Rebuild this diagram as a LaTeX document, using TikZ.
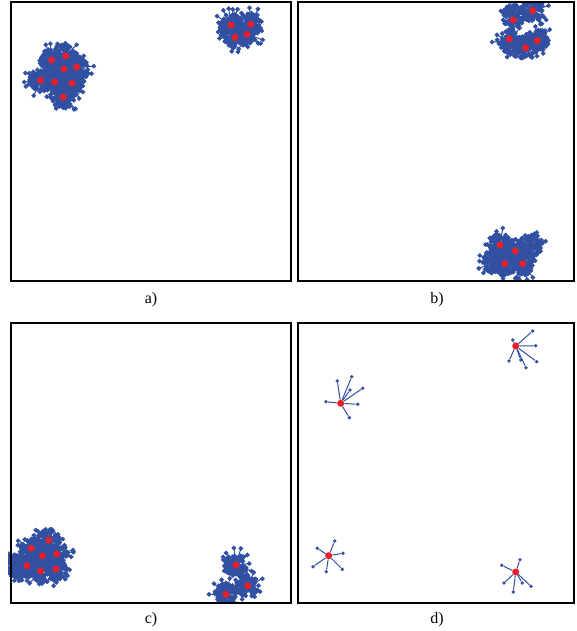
\documentclass[tikz,border=0pt]{standalone}
\usepackage{fontspec}
\setmainfont{Liberation Serif}

\definecolor{netblue}{RGB}{50,80,162}
\definecolor{hubred}{RGB}{234,30,40}

% one dense cluster: many short branches round a hub
\newcommand{\blob}[3]{%
  \foreach \k in {1,...,#3} {
    \pgfmathsetmacro{\ang}{360*rnd}
    \pgfmathsetmacro{\rad}{\blobr*(0.3+0.7*sqrt(rnd))*(rnd<0.18 ? 1.5 : 1)}
    \filldraw[link] (#1,#2) -- ++(\ang:\rad) circle[radius=1.8];
  }
}

\begin{document}
\begin{tikzpicture}[
    x=1pt, y=-1pt,
    % Define frame style
    frame/.style={draw=black, line width=1.3pt},
    link/.style={netblue, line width=1pt},
    hub/.style={circle, fill=hubred, inner sep=0pt, minimum size=7pt},
    leaf/.style={circle, fill=netblue, inner sep=0pt, minimum size=3.8pt},
    caption/.style={font=\fontsize{16}{18}\selectfont, inner sep=0pt}
]
\useasboundingbox (0,0) rectangle (577,631);
\pgfmathsetseed{4711}
\def\blobr{11.5}

% Panel a
\begin{scope}
    \clip (11,2) rectangle (291,281);
    \foreach \x/\y in {51.7/60, 65.7/56, 64/69, 76.7/67, 40.7/80.3, 54.7/82, 72/83.3, 63.3/97,
                       231/25, 250.7/24.3, 235/37.3, 247/34.3} {
        \blob{\x}{\y}{80}
    }
    \foreach \x/\y in {51.7/60, 65.7/56, 64/69, 76.7/67, 40.7/80.3, 54.7/82, 72/83.3, 63.3/97,
                       231/25, 250.7/24.3, 235/37.3, 247/34.3}
        \node[hub] at (\x,\y) {};
\end{scope}
\draw[frame] (11,2) rectangle (291,281);
\node[caption] (capa) at (151,300) {a)};

% Panel b
\begin{scope}
    \clip (298,2) rectangle (574,281);
    \foreach \x/\y in {532.7/10.7, 513.3/16, 509.3/41, 525.7/47.7, 537.3/40.7,
                       500/245, 515.3/251, 504.7/263.7, 522.7/263.7, 530/246, 494/262} {
        \blob{\x}{\y}{80}
    }
    \foreach \x/\y in {532.7/10.7, 513.3/20, 509.3/39, 525.7/47.7, 537.3/40.7,
                       500/245, 515.3/251, 504.7/263.7, 522.7/263.7}
        \node[hub] at (\x,\y) {};
\end{scope}
\draw[frame] (298,2) rectangle (574,281);
\node[caption] (capb) at (437,300) {b)};

% Panel c
\begin{scope}
    \clip (8,323) rectangle (291,603);
    \foreach \x/\y in {48.7/540.3, 31.3/548.3, 42.3/555.7, 56.7/554, 27/565.7, 40.7/571, 56/569, 16/566,
                       236/565, 247.7/585.7, 226/594.3} {
        \blob{\x}{\y}{80}
    }
    \foreach \x/\y in {48.7/540.3, 31.3/548.3, 42.3/555.7, 56.7/554, 27/565.7, 40.7/571, 56/569,
                       236/565, 247.7/585.7, 226/594.3}
        \node[hub] at (\x,\y) {};
\end{scope}
\draw[frame] (11,323) rectangle (291,603);
\node[caption] (capc) at (151,620) {c)};

% Panel d: four small stars
\draw[frame] (298,323) rectangle (574,603);
\node[hub] (s1) at (340.7,403.3) {};
\foreach \x/\y [count=\i] in {337.3/381, 351.7/376.7, 350/390, 362.7/388.3, 357.7/404.3, 326/401.7, 349.3/417.7} {
    \node[leaf] (s1l\i) at (\x,\y) {};
    \draw[link] (s1) -- (s1l\i);
}
\node[hub] (s2) at (515.7,346) {};
\foreach \x/\y [count=\i] in {532.7/331, 512.7/340, 535.7/345.7, 509/361, 520.7/360, 526/367.7, 536.7/361.7} {
    \node[leaf] (s2l\i) at (\x,\y) {};
    \draw[link] (s2) -- (s2l\i);
}
\node[hub] (s3) at (328.7,555.7) {};
\foreach \x/\y [count=\i] in {334.7/541, 317.3/548.3, 343/553.3, 313/566.7, 326.3/571.7, 342.3/569.3} {
    \node[leaf] (s3l\i) at (\x,\y) {};
    \draw[link] (s3) -- (s3l\i);
}
\node[hub] (s4) at (515.7,572) {};
\foreach \x/\y [count=\i] in {501.7/565.3, 520/559.7, 504/583, 522.3/583, 513.3/592, 531/586.3} {
    \node[leaf] (s4l\i) at (\x,\y) {};
    \draw[link] (s4) -- (s4l\i);
}
\node[caption] (capd) at (437,620) {d)};

\end{tikzpicture}
\end{document}
